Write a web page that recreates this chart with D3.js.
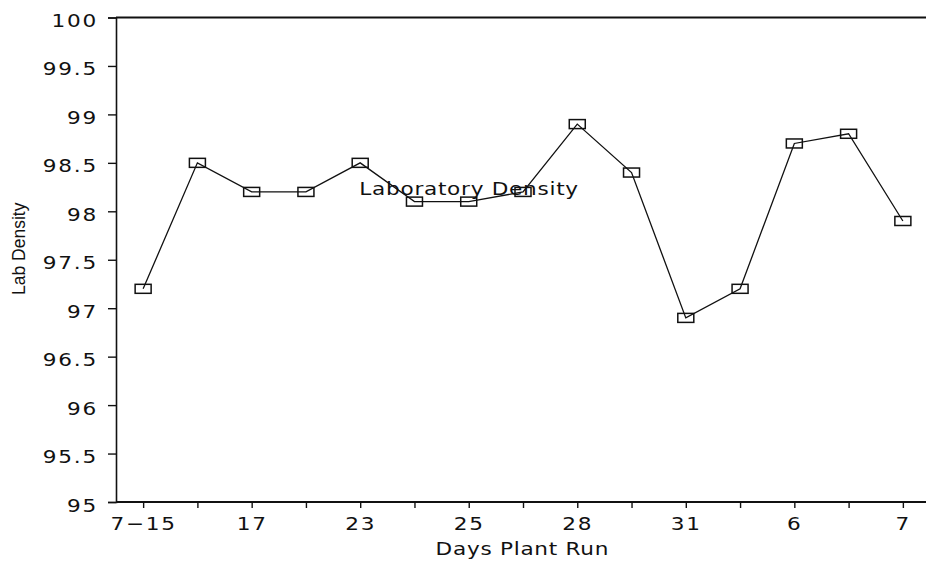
<!DOCTYPE html>
<html>
<head>
<meta charset="utf-8">
<script src="https://cdn.jsdelivr.net/npm/d3@7"></script>
<style>
  html, body { margin: 0; padding: 0; background: #fff; }
  svg { display: block; }
  text { fill: #111; }
</style>
</head>
<body>
<svg id="chart" width="926" height="562"></svg>
<script>
// Daily laboratory density readings over the plant run
const dayLabels = ["7\u221215", "", "17", "", "23", "", "25", "", "28", "", "31", "", "6", "", "7"];
const labDensity = [97.2, 98.5, 98.2, 98.2, 98.5, 98.1, 98.1, 98.2, 98.9, 98.4, 96.9, 97.2, 98.7, 98.8, 97.9];
const yTicks = [95, 95.5, 96, 96.5, 97, 97.5, 98, 98.5, 99, 99.5, 100];
const seriesName = "Laboratory Density";

const W = 926, H = 562;
const margin = { top: 17.5, right: -4, bottom: 60, left: 116 };

// Wide plotter-style lettering: DejaVu Sans stretched horizontally, lightly tracked
const FONT = "DejaVu Sans";
const FONT_SIZE = 18;
const STRETCH = 1.2;
const NUM_TRACK = 1.5;
const WORD_TRACK = 0.6;

const svg = d3.select("#chart");

// Place a text node at (px, py) and stretch it horizontally about that point.
// Tracking adds trailing space after the last glyph, so compensate by anchor.
function stretchText(sel, px, py, track) {
  sel.each(function () {
    const t = d3.select(this);
    const anchor = t.attr("text-anchor") || (this.parentNode && d3.select(this.parentNode).attr("text-anchor")) || "start";
    const shift = anchor === "end" ? track : anchor === "middle" ? track / 2 : 0;
    t.attr("x", shift).attr("y", 0)
      .attr("transform", `translate(${px},${py}) scale(${STRETCH},1)`)
      .attr("font-family", FONT)
      .attr("font-size", FONT_SIZE)
      .attr("letter-spacing", track)
      .attr("fill", "#111");
  });
}

const idx = d3.range(labDensity.length);
const x = d3.scalePoint()
  .domain(idx)
  .range([margin.left, W - margin.right])
  .padding(0.5);

const y = d3.scaleLinear()
  .domain([95, 100])
  .range([H - margin.bottom, margin.top]);

// Top frame line
svg.append("line")
  .attr("x1", margin.left).attr("x2", W)
  .attr("y1", y(100)).attr("y2", y(100))
  .attr("stroke", "#111").attr("stroke-width", 2);

// Y axis
const yTickSize = 8, yPad = 10;
const yAxis = svg.append("g")
  .attr("transform", `translate(${margin.left},0)`)
  .call(d3.axisLeft(y).tickValues(yTicks).tickSize(yTickSize).tickPadding(yPad)
    .tickFormat(d => String(d)));
yAxis.select(".domain").attr("stroke", "#111").attr("stroke-width", 1.6);
yAxis.selectAll(".tick line").attr("stroke", "#111").attr("stroke-width", 1.4);
yAxis.selectAll(".tick text")
  .call(stretchText, -(yTickSize + yPad), 0, NUM_TRACK)
  .attr("dy", "0.5em");

// X axis
const xTickSize = 6, xPad = 15;
const xAxis = svg.append("g")
  .attr("transform", `translate(0,${y(95)})`)
  .call(d3.axisBottom(x).tickSize(xTickSize).tickPadding(8)
    .tickFormat(i => dayLabels[i]));
xAxis.select(".domain")
  .attr("d", `M${margin.left},0H${W}`)
  .attr("stroke", "#111").attr("stroke-width", 2);
xAxis.selectAll(".tick line").attr("stroke", "#111").attr("stroke-width", 1.4);
xAxis.selectAll(".tick text")
  .call(stretchText, 0, xPad, NUM_TRACK)
  .attr("dy", "0.71em");

// Data line
const line = d3.line()
  .x((d, i) => x(i))
  .y(d => y(d));

svg.append("path")
  .datum(labDensity)
  .attr("d", line)
  .attr("fill", "none")
  .attr("stroke", "#111")
  .attr("stroke-width", 1.3);

// Open rectangle markers
const mw = 16, mh = 9;
svg.append("g").selectAll("rect")
  .data(labDensity)
  .join("rect")
  .attr("x", (d, i) => x(i) - mw / 2)
  .attr("y", d => y(d) - mh / 2)
  .attr("width", mw)
  .attr("height", mh)
  .attr("fill", "none")
  .attr("stroke", "#111")
  .attr("stroke-width", 1.5);

// Series label on the curve
svg.append("text")
  .attr("text-anchor", "middle")
  .text(seriesName)
  .call(stretchText, x(6), y(98.2) + 3, WORD_TRACK);

// Axis titles
svg.append("text")
  .attr("text-anchor", "middle")
  .text("Days Plant Run")
  .call(stretchText, (margin.left + W) / 2 + 1, 555, WORD_TRACK);

svg.append("text")
  .attr("transform", `translate(25,${y(97.5) - 11}) rotate(-90)`)
  .attr("text-anchor", "middle")
  .attr("font-family", "Liberation Sans, Arial, sans-serif")
  .attr("font-size", 17.5)
  .attr("fill", "#111")
  .text("Lab Density");
</script>
</body>
</html>
